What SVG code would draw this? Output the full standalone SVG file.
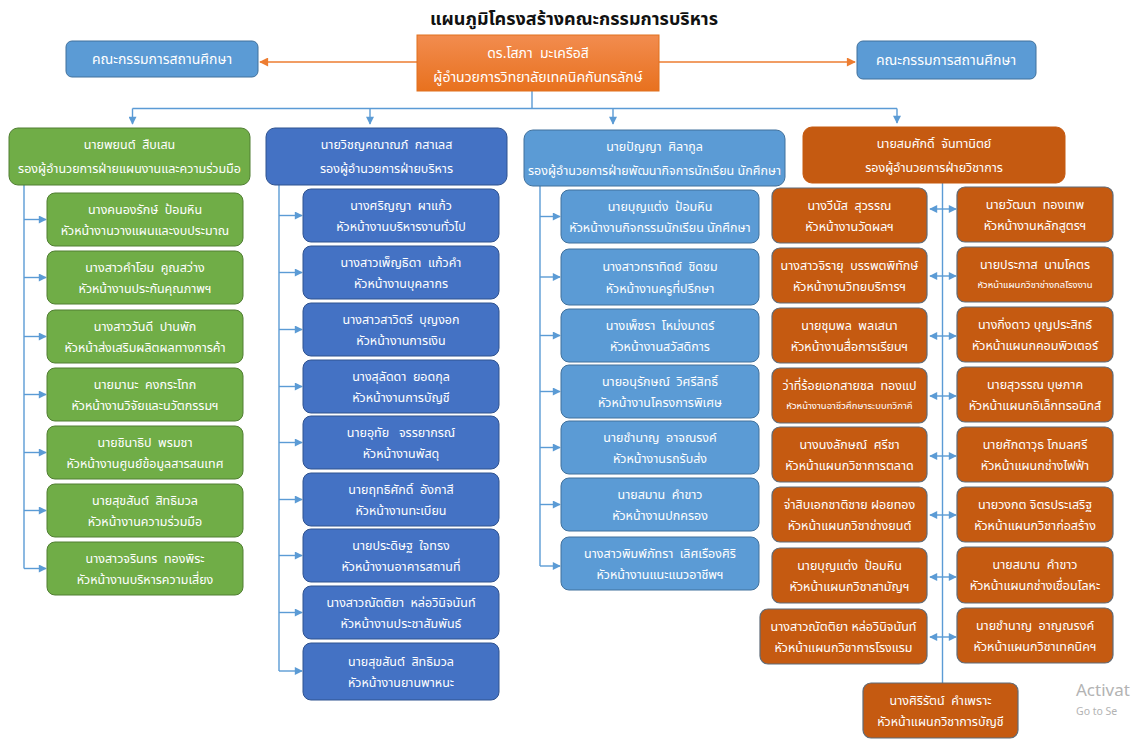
<svg xmlns="http://www.w3.org/2000/svg" width="1148" height="740" viewBox="0 0 1148 740">
<defs>
<linearGradient id="gOr" x1="0" y1="0" x2="0" y2="1">
<stop offset="0" stop-color="#F28C4F"/>
<stop offset="1" stop-color="#E8711E"/>
</linearGradient>
<marker id="ab" viewBox="0 0 10 10" refX="9" refY="5" markerWidth="9" markerHeight="8" markerUnits="userSpaceOnUse" orient="auto">
<path d="M0,0 L10,5 L0,10 z" fill="#5B9BD5"/>
</marker>
<marker id="abs" viewBox="0 0 10 10" refX="1" refY="5" markerWidth="9" markerHeight="8" markerUnits="userSpaceOnUse" orient="auto">
<path d="M10,0 L0,5 L10,10 z" fill="#5B9BD5"/>
</marker>
<marker id="ao" viewBox="0 0 10 10" refX="9" refY="5" markerWidth="10" markerHeight="9" markerUnits="userSpaceOnUse" orient="auto">
<path d="M0,0 L10,5 L0,10 z" fill="#ED7D31"/>
</marker>
</defs>
<style>
text{font-family:"Noto Sans Thai","Noto Sans","Liberation Sans",sans-serif;fill:#fff;text-anchor:middle;white-space:pre;font-size:12.5px}
.title{fill:#111;font-size:18px;font-weight:bold}
.big{font-size:14px}
.sm{font-size:9.5px}
.wm1{fill:#b3b3b3;font-size:17px;text-anchor:start}
.wm2{fill:#b3b3b3;font-size:10.5px;text-anchor:start}
.gr{fill:#70AD47;stroke:#507E32;stroke-width:1}
.db{fill:#4472C4;stroke:#2F528F;stroke-width:1}
.lb{fill:#5B9BD5;stroke:#41719C;stroke-width:1}
.or{fill:#C55A11;stroke:#5F6B78;stroke-width:1.2}
.or2{fill:#C55A11;stroke:#C55A11;stroke-width:1}
.ctr{fill:url(#gOr);stroke:#E0701F;stroke-width:1}
.cl{fill:none;stroke:#5B9BD5;stroke-width:1.4}
.co{fill:none;stroke:#ED7D31;stroke-width:1.6}
</style>
<rect width="1148" height="740" fill="#fff"/>
<text class="title" x="574" y="25">แผนภูมิโครงสร้างคณะกรรมการบริหาร</text>

<g id="connectors">
<line class="co" x1="417" y1="62" x2="260" y2="62" marker-end="url(#ao)"/>
<line class="co" x1="659" y1="62" x2="855" y2="62" marker-end="url(#ao)"/>
<polyline class="cl" points="532,91 532,108.5"/>
<polyline class="cl" points="132.5,108.5 897,108.5"/>
<line class="cl" x1="132.5" y1="108.5" x2="132.5" y2="124" marker-end="url(#ab)"/>
<line class="cl" x1="370" y1="108.5" x2="370" y2="124" marker-end="url(#ab)"/>
<line class="cl" x1="613" y1="108.5" x2="613" y2="124" marker-end="url(#ab)"/>
<line class="cl" x1="897" y1="108.5" x2="897" y2="123" marker-end="url(#ab)"/>
<!-- green -->
<polyline class="cl" points="24,185 24,568.5"/>
<line class="cl" x1="24" y1="219.5" x2="46" y2="219.5" marker-end="url(#ab)"/>
<line class="cl" x1="24" y1="277.5" x2="46" y2="277.5" marker-end="url(#ab)"/>
<line class="cl" x1="24" y1="336.5" x2="46" y2="336.5" marker-end="url(#ab)"/>
<line class="cl" x1="24" y1="394.5" x2="46" y2="394.5" marker-end="url(#ab)"/>
<line class="cl" x1="24" y1="452.5" x2="46" y2="452.5" marker-end="url(#ab)"/>
<line class="cl" x1="24" y1="510.5" x2="46" y2="510.5" marker-end="url(#ab)"/>
<line class="cl" x1="24" y1="568.5" x2="46" y2="568.5" marker-end="url(#ab)"/>
<!-- dark blue -->
<polyline class="cl" points="279,185 279,671"/>
<line class="cl" x1="279" y1="215.5" x2="302" y2="215.5" marker-end="url(#ab)"/>
<line class="cl" x1="279" y1="272.5" x2="302" y2="272.5" marker-end="url(#ab)"/>
<line class="cl" x1="279" y1="329.5" x2="302" y2="329.5" marker-end="url(#ab)"/>
<line class="cl" x1="279" y1="386.5" x2="302" y2="386.5" marker-end="url(#ab)"/>
<line class="cl" x1="279" y1="442.5" x2="302" y2="442.5" marker-end="url(#ab)"/>
<line class="cl" x1="279" y1="499.5" x2="302" y2="499.5" marker-end="url(#ab)"/>
<line class="cl" x1="279" y1="555.5" x2="302" y2="555.5" marker-end="url(#ab)"/>
<line class="cl" x1="279" y1="612.5" x2="302" y2="612.5" marker-end="url(#ab)"/>
<line class="cl" x1="279" y1="671" x2="302" y2="671" marker-end="url(#ab)"/>
<!-- light blue -->
<polyline class="cl" points="540,186 540,566"/>
<line class="cl" x1="540" y1="216.5" x2="560" y2="216.5" marker-end="url(#ab)"/>
<line class="cl" x1="540" y1="277" x2="560" y2="277" marker-end="url(#ab)"/>
<line class="cl" x1="540" y1="335.5" x2="560" y2="335.5" marker-end="url(#ab)"/>
<line class="cl" x1="540" y1="391.5" x2="560" y2="391.5" marker-end="url(#ab)"/>
<line class="cl" x1="540" y1="447.5" x2="560" y2="447.5" marker-end="url(#ab)"/>
<line class="cl" x1="540" y1="504.5" x2="560" y2="504.5" marker-end="url(#ab)"/>
<line class="cl" x1="540" y1="566" x2="560" y2="566" marker-end="url(#ab)"/>
<!-- orange -->
<polyline class="cl" points="942.5,183 942.5,683"/>
<line class="cl" x1="930" y1="209" x2="956" y2="209" marker-start="url(#abs)" marker-end="url(#ab)"/>
<line class="cl" x1="930" y1="276" x2="956" y2="276" marker-start="url(#abs)" marker-end="url(#ab)"/>
<line class="cl" x1="930" y1="336" x2="956" y2="336" marker-start="url(#abs)" marker-end="url(#ab)"/>
<line class="cl" x1="930" y1="396" x2="956" y2="396" marker-start="url(#abs)" marker-end="url(#ab)"/>
<line class="cl" x1="930" y1="456" x2="956" y2="456" marker-start="url(#abs)" marker-end="url(#ab)"/>
<line class="cl" x1="930" y1="515" x2="956" y2="515" marker-start="url(#abs)" marker-end="url(#ab)"/>
<line class="cl" x1="930" y1="577" x2="956" y2="577" marker-start="url(#abs)" marker-end="url(#ab)"/>
<line class="cl" x1="930" y1="637" x2="956" y2="637" marker-start="url(#abs)" marker-end="url(#ab)"/>
</g>

<g id="n-director"><rect class="ctr" x="417" y="35" width="242" height="56"/><text class="big" x="538" y="58">ดร.โสภา  มะเครือสี</text><text class="big" x="538" y="82">ผู้อำนวยการวิทยาลัยเทคนิคกันทรลักษ์</text></g>
<g id="n-board-left"><rect class="lb" x="66" y="41" width="192" height="36" rx="6"/><text class="big" x="162" y="64">คณะกรรมการสถานศึกษา</text></g>
<g id="n-board-right"><rect class="lb" x="857" y="41" width="179" height="38" rx="6"/><text class="big" x="946" y="65">คณะกรรมการสถานศึกษา</text></g>

<g id="n-green"><rect class="gr" x="9" y="128" width="241" height="57" rx="9"/><text x="129.5" y="149">นายพยนต์  สืบเสน</text><text x="129.5" y="173">รองผู้อำนวยการฝ่ายแผนงานและความร่วมมือ</text></g>
<g id="n-darkblue"><rect class="db" x="266" y="128" width="241" height="57" rx="9"/><text x="386.5" y="149">นายวิชญคณาณภ์  กสาเลส</text><text x="386.5" y="173">รองผู้อำนวยการฝ่ายบริหาร</text></g>
<g id="n-lightblue"><rect class="lb" x="524" y="130" width="261" height="56" rx="9"/><text x="654.5" y="151">นายปัญญา  ศิลากูล</text><text x="654.5" y="175">รองผู้อำนวยการฝ่ายพัฒนากิจการนักเรียน นักศึกษา</text></g>
<g id="n-orange"><rect class="or2" x="803" y="127" width="262" height="56" rx="9"/><text x="934" y="148">นายสมศักดิ์  จันทานิตย์</text><text x="934" y="172">รองผู้อำนวยการฝ่ายวิชาการ</text></g>

<g id="g1"><rect class="gr" x="47" y="193" width="196" height="53" rx="8"/><text x="145" y="214">นางคนองรักษ์  ป้อมหิน</text><text x="145" y="235">หัวหน้างานวางแผนและงบประมาณ</text></g>
<g id="g2"><rect class="gr" x="47" y="251" width="196" height="53" rx="8"/><text x="145" y="272">นางสาวคำโฮม  คูณสว่าง</text><text x="145" y="293">หัวหน้างานประกันคุณภาพฯ</text></g>
<g id="g3"><rect class="gr" x="47" y="310" width="196" height="53" rx="8"/><text x="145" y="331">นางสาววันดี  ปานพัก</text><text x="145" y="352">หัวหน้าส่งเสริมผลิตผลทางการค้า</text></g>
<g id="g4"><rect class="gr" x="47" y="368" width="196" height="53" rx="8"/><text x="145" y="389">นายมานะ  คงกระโทก</text><text x="145" y="410">หัวหน้างานวิจัยและนวัตกรรมฯ</text></g>
<g id="g5"><rect class="gr" x="47" y="426" width="196" height="53" rx="8"/><text x="145" y="447">นายชินาธิป  พรมชา</text><text x="145" y="468">หัวหน้างานศูนย์ข้อมูลสารสนเทศ</text></g>
<g id="g6"><rect class="gr" x="47" y="484" width="196" height="53" rx="8"/><text x="145" y="505">นายสุขสันต์  สิทธิมวล</text><text x="145" y="526">หัวหน้างานความร่วมมือ</text></g>
<g id="g7"><rect class="gr" x="47" y="542" width="196" height="53" rx="8"/><text x="145" y="563">นางสาวจรินทร  ทองพิระ</text><text x="145" y="584">หัวหน้างานบริหารความเสี่ยง</text></g>

<g id="b1"><rect class="db" x="303" y="189" width="196" height="53" rx="8"/><text x="401" y="210">นางศริญญา  ผาแก้ว</text><text x="401" y="231">หัวหน้างานบริหารงานทั่วไป</text></g>
<g id="b2"><rect class="db" x="303" y="246" width="196" height="53" rx="8"/><text x="401" y="267">นางสาวเพ็ญธิดา  แก้วคำ</text><text x="401" y="288">หัวหน้างานบุคลากร</text></g>
<g id="b3"><rect class="db" x="303" y="303" width="196" height="53" rx="8"/><text x="401" y="324">นางสาวสาวิตรี  บุญงอก</text><text x="401" y="345">หัวหน้างานการเงิน</text></g>
<g id="b4"><rect class="db" x="303" y="360" width="196" height="53" rx="8"/><text x="401" y="381">นางสุลัดดา  ยอดกุล</text><text x="401" y="402">หัวหน้างานการบัญชี</text></g>
<g id="b5"><rect class="db" x="303" y="416" width="196" height="53" rx="8"/><text x="401" y="437">นายอุทัย   จรรยากรณ์</text><text x="401" y="458">หัวหน้างานพัสดุ</text></g>
<g id="b6"><rect class="db" x="303" y="473" width="196" height="53" rx="8"/><text x="401" y="494">นายฤทธิศักดิ์  อังกาสี</text><text x="401" y="515">หัวหน้างานทะเบียน</text></g>
<g id="b7"><rect class="db" x="303" y="529" width="196" height="53" rx="8"/><text x="401" y="550">นายประดิษฐ  ใจทรง</text><text x="401" y="571">หัวหน้างานอาคารสถานที่</text></g>
<g id="b8"><rect class="db" x="303" y="586" width="196" height="53" rx="8"/><text x="401" y="607">นางสาวณัตติยา  หล่อวินิจนันท์</text><text x="401" y="628">หัวหน้างานประชาสัมพันธ์</text></g>
<g id="b9"><rect class="db" x="303" y="643" width="196" height="57" rx="8"/><text x="401" y="666">นายสุขสันต์  สิทธิมวล</text><text x="401" y="687">หัวหน้างานยานพาหนะ</text></g>

<g id="l1"><rect class="lb" x="561" y="190" width="198" height="53" rx="8"/><text x="660" y="211">นายบุญแต่ง  ป้อมหิน</text><text x="660" y="232">หัวหน้างานกิจกรรมนักเรียน นักศึกษา</text></g>
<g id="l2"><rect class="lb" x="561" y="249" width="198" height="56" rx="8"/><text x="660" y="271">นางสาวทราทิตย์  ชิดชม</text><text x="660" y="293">หัวหน้างานครูที่ปรึกษา</text></g>
<g id="l3"><rect class="lb" x="561" y="309" width="198" height="53" rx="8"/><text x="660" y="330">นางเพ็ชรา  โหม่งมาตร์</text><text x="660" y="351">หัวหน้างานสวัสดิการ</text></g>
<g id="l4"><rect class="lb" x="561" y="365" width="198" height="53" rx="8"/><text x="660" y="386">นายอนุรักษณ์  วิศรีสิทธิ์</text><text x="660" y="407">หัวหน้างานโครงการพิเศษ</text></g>
<g id="l5"><rect class="lb" x="561" y="421" width="198" height="53" rx="8"/><text x="660" y="442">นายชำนาญ  อาจณรงค์</text><text x="660" y="463">หัวหน้างานรถรับส่ง</text></g>
<g id="l6"><rect class="lb" x="561" y="478" width="198" height="53" rx="8"/><text x="660" y="499">นายสมาน  คำขาว</text><text x="660" y="520">หัวหน้างานปกครอง</text></g>
<g id="l7"><rect class="lb" x="561" y="537" width="198" height="53" rx="8"/><text x="660" y="558">นางสาวพิมพ์ภัทรา  เลิศเรืองศิริ</text><text x="660" y="579">หัวหน้างานแนะแนวอาชีพฯ</text></g>

<g id="o1"><rect class="or" x="772" y="188" width="155" height="55" rx="8"/><text x="849.5" y="210">นางวีนัส  สุวรรณ</text><text x="849.5" y="231">หัวหน้างานวัดผลฯ</text></g>
<g id="o2"><rect class="or" x="772" y="248" width="155" height="55" rx="8"/><text x="849.5" y="270">นางสาวจิรายุ  บรรพตพิทักษ์</text><text x="849.5" y="291">หัวหน้างานวิทยบริการฯ</text></g>
<g id="o3"><rect class="or" x="772" y="308" width="155" height="55" rx="8"/><text x="849.5" y="330">นายชุมพล  พลเสนา</text><text x="849.5" y="351">หัวหน้างานสื่อการเรียนฯ</text></g>
<g id="o4"><rect class="or" x="772" y="368" width="155" height="55" rx="8"/><text x="849.5" y="390">ว่าที่ร้อยเอกสายชล  ทองแป</text><text class="sm" x="849.5" y="409">หัวหน้างานอาชีวศึกษาระบบทวิภาคี</text></g>
<g id="o5"><rect class="or" x="772" y="427" width="155" height="55" rx="8"/><text x="849.5" y="449">นางนงลักษณ์  ศรีชา</text><text x="849.5" y="470">หัวหน้าแผนกวิชาการตลาด</text></g>
<g id="o6"><rect class="or" x="772" y="487" width="155" height="55" rx="8"/><text x="849.5" y="509">จ่าสิบเอกชาติชาย ฝอยทอง</text><text x="849.5" y="530">หัวหน้าแผนกวิชาช่างยนต์</text></g>
<g id="o7"><rect class="or" x="772" y="548" width="155" height="55" rx="8"/><text x="849.5" y="570">นายบุญแต่ง  ป้อมหิน</text><text x="849.5" y="591">หัวหน้าแผนกวิชาสามัญฯ</text></g>
<g id="o8"><rect class="or" x="760" y="609" width="167" height="55" rx="8"/><text x="843.5" y="631">นางสาวณัตติยา หล่อวินิจนันท์</text><text x="843.5" y="652">หัวหน้าแผนกวิชาการโรงแรม</text></g>

<g id="r1"><rect class="or" x="957" y="187" width="156" height="55" rx="8"/><text x="1035" y="209">นายวัฒนา  ทองเทพ</text><text x="1035" y="230">หัวหน้างานหลักสูตรฯ</text></g>
<g id="r2"><rect class="or" x="957" y="247" width="156" height="55" rx="8"/><text x="1035" y="269">นายประภาส  นามโคตร</text><text class="sm" x="1035" y="288">หัวหน้าแผนกวิชาช่างกลโรงงาน</text></g>
<g id="r3"><rect class="or" x="957" y="307" width="156" height="55" rx="8"/><text x="1035" y="329">นางกิ่งดาว บุญประสิทธ์</text><text x="1035" y="350">หัวหน้าแผนกคอมพิวเตอร์</text></g>
<g id="r4"><rect class="or" x="957" y="367" width="156" height="55" rx="8"/><text x="1035" y="389">นายสุวรรณ บุษภาค</text><text x="1035" y="410">หัวหน้าแผนกอิเล็กทรอนิกส์</text></g>
<g id="r5"><rect class="or" x="957" y="427" width="156" height="55" rx="8"/><text x="1035" y="449">นายศักดาวุธ โกมลศรี</text><text x="1035" y="470">หัวหน้าแผนกช่างไฟฟ้า</text></g>
<g id="r6"><rect class="or" x="957" y="487" width="156" height="55" rx="8"/><text x="1035" y="509">นายวงกต จิตรประเสริฐ</text><text x="1035" y="530">หัวหน้าแผนกวิชาก่อสร้าง</text></g>
<g id="r7"><rect class="or" x="957" y="547" width="156" height="56" rx="8"/><text x="1035" y="569">นายสมาน  คำขาว</text><text x="1035" y="590">หัวหน้าแผนกช่างเชื่อมโลหะ</text></g>
<g id="r8"><rect class="or" x="957" y="608" width="156" height="55" rx="8"/><text x="1035" y="630">นายชำนาญ  อาญณรงค์</text><text x="1035" y="651">หัวหน้าแผนกวิชาเทคนิคฯ</text></g>

<g id="o-bottom"><rect class="or" x="863" y="683" width="155" height="55" rx="8"/><text x="940.5" y="705">นางศิริรัตน์  คำเพราะ</text><text x="940.5" y="726">หัวหน้าแผนกวิชาการบัญชี</text></g>

<text class="wm1" x="1076" y="696">Activat</text>
<text class="wm2" x="1076" y="715">Go to Se</text>
</svg>
